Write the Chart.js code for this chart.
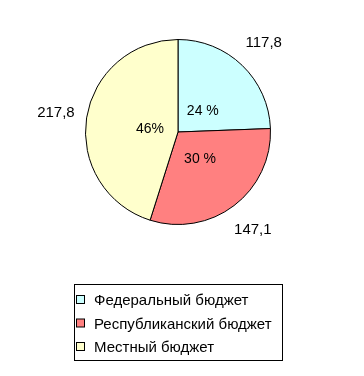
<!DOCTYPE html>
<html><head><meta charset="utf-8">
<script src="https://cdn.jsdelivr.net/npm/chart.js@4/dist/chart.umd.min.js"></script>
<style>html,body{margin:0;padding:0;background:#fff}#wrap{width:364px;height:376px;position:relative}</style>
</head><body><div id="wrap"><canvas id="c" width="364" height="376"></canvas></div>
<script>
const categories = ['Федеральный бюджет', 'Республиканский бюджет', 'Местный бюджет'];
const values = [117.8, 147.1, 217.8];
const valueLabels = ['117,8', '147,1', '217,8'];
const percentLabels = ['24 %', '30 %', '46%'];
const colors = ['#CCFFFF', '#FF8080', '#FFFFCC'];

const FONT = '"Liberation Sans", Arial, sans-serif';

const labelPlugin = {
  id: 'pieLabels',
  afterDatasetsDraw(chart) {
    const ctx = chart.ctx;
    const meta = chart.getDatasetMeta(0);
    ctx.save();
    ctx.fillStyle = '#000';
    ctx.textAlign = 'center';
    ctx.textBaseline = 'middle';
    meta.data.forEach((arc, i) => {
      const p = arc.getProps(['x', 'y', 'startAngle', 'endAngle', 'outerRadius']);
      const mid = (p.startAngle + p.endAngle) / 2;
      ctx.font = '14px ' + FONT;
      const ri = p.outerRadius * 0.34;
      ctx.fillText(percentLabels[i], p.x + 3 + Math.cos(mid) * ri, p.y + 2 + Math.sin(mid) * ri);
      ctx.font = '15px ' + FONT;
      const ro = p.outerRadius + 31;
      ctx.fillText(valueLabels[i], p.x + Math.cos(mid) * ro, p.y + Math.sin(mid) * ro);
    });
    ctx.restore();
  }
};

const legendPlugin = {
  id: 'boxLegend',
  afterDraw(chart) {
    const ctx = chart.ctx;
    ctx.save();
    ctx.strokeStyle = '#000';
    ctx.lineWidth = 1;
    ctx.strokeRect(74.5, 284.5, 208, 76);
    ctx.font = '15px ' + FONT;
    ctx.textBaseline = 'middle';
    ctx.textAlign = 'left';
    categories.forEach((c, i) => {
      const cy = 300 + i * 23.5;
      ctx.fillStyle = colors[i];
      ctx.fillRect(76.5, cy - 4.5, 8, 8);
      ctx.strokeRect(76.5, cy - 4.5, 8, 8);
      ctx.fillStyle = '#000';
      ctx.fillText(c, 94, cy + 1);
    });
    ctx.restore();
  }
};

new Chart(document.getElementById('c'), {
  type: 'pie',
  data: {
    labels: categories,
    datasets: [{
      data: values,
      backgroundColor: colors,
      borderColor: '#000',
      borderWidth: 1
    }]
  },
  options: {
    responsive: false,
    devicePixelRatio: 1,
    animation: false,
    layout: { padding: { left: 85, right: 93, top: 39, bottom: 151 } },
    plugins: { legend: { display: false }, tooltip: { enabled: false } }
  },
  plugins: [labelPlugin, legendPlugin]
});
</script>
</body></html>
